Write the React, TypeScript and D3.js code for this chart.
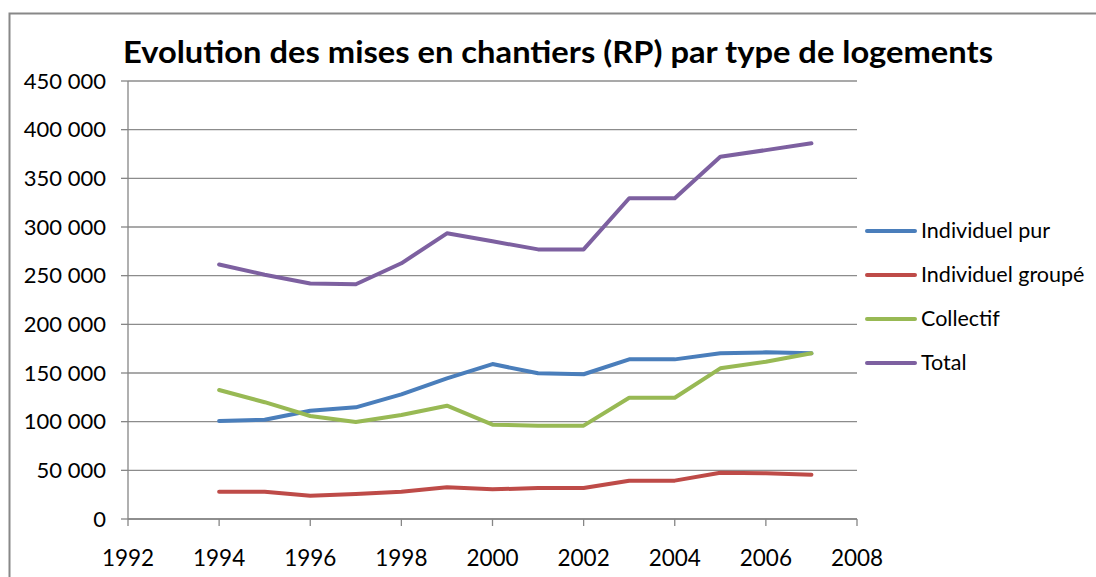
import React from 'react'
import * as d3 from 'd3'

const years = [1994, 1995, 1996, 1997, 1998, 1999, 2000, 2001, 2002, 2003, 2004, 2005, 2006, 2007]
const individuelPur = [100700, 102000, 111300, 114700, 128100, 144500, 159200, 149700, 148700, 164000, 164000, 170200, 171200, 170200]
const individuelGroupe = [28100, 28100, 24000, 25700, 28100, 32600, 30500, 31800, 31800, 39400, 39400, 47600, 47000, 45500]
const collectif = [132500, 120000, 105800, 99700, 106900, 116400, 96900, 95900, 95900, 124600, 124600, 154800, 161600, 170200]
const total = [261500, 251000, 242000, 241200, 262700, 293500, 285300, 277000, 277000, 329500, 329500, 372200, 379000, 386000]

const seriesNames = ['Individuel pur', 'Individuel groupé', 'Collectif', 'Total']
const seriesValues = [individuelPur, individuelGroupe, collectif, total]
const seriesColors = ['#4a7ebb', '#be4b48', '#98b954', '#7d60a0']

const xTicks = [1992, 1994, 1996, 1998, 2000, 2002, 2004, 2006, 2008]
const yTicks = [0, 50000, 100000, 150000, 200000, 250000, 300000, 350000, 400000, 450000]

const title = 'Evolution des mises en chantiers (RP) par type de logements'

export default function App() {
  const width = 1096
  const height = 577
  const font = 'Lato, "Open Sans", sans-serif'

  const x = d3.scaleLinear().domain([1992, 2008]).range([128, 857])
  const y = d3.scaleLinear().domain([0, 450000]).range([519, 81])

  const line = d3
    .line<number>()
    .x((d, i) => x(years[i]))
    .y(d => y(d))

  // thousands separated by a space, french style
  const fmt = (v: number) => d3.format(',')(v).replace(/,/g, ' ')

  return (
    <svg
      width={width}
      height={height}
      style={{position: 'absolute', left: 0, top: 0, background: '#fff'}}
    >
      <rect x={0} y={0} width={width} height={height} fill="#fff" />
      {/* chart frame */}
      <rect x={9.5} y={13.5} width={width + 20} height={height + 20} fill="none" stroke="#888" strokeWidth={2} />

      <text
        x={123}
        y={63}
        fontFamily={font}
        fontWeight="bold"
        fontSize={31}
        textLength={870}
        lengthAdjust="spacingAndGlyphs"
        fill="#000"
      >
        {title}
      </text>

      {/* gridlines */}
      {yTicks.map(t => (
        <line key={'g' + t} x1={x(1992)} x2={x(2008)} y1={y(t)} y2={y(t)} stroke="#8c8c8c" strokeWidth={1.3} />
      ))}

      {/* y axis */}
      <line x1={x(1992)} x2={x(1992)} y1={y(450000)} y2={y(0)} stroke="#868686" strokeWidth={1.3} />
      {yTicks.map(t => (
        <g key={'y' + t}>
          <line x1={x(1992) - 7} x2={x(1992)} y1={y(t)} y2={y(t)} stroke="#868686" strokeWidth={1.3} />
          <text x={106} y={y(t) + 7.5} textAnchor="end" fontFamily={font} fontSize={22} fill="#000">
            {fmt(t)}
          </text>
        </g>
      ))}

      {/* x axis */}
      <line x1={x(1992)} x2={x(2008)} y1={y(0)} y2={y(0)} stroke="#868686" strokeWidth={1.3} />
      {xTicks.map(t => (
        <g key={'x' + t}>
          <line x1={x(t)} x2={x(t)} y1={y(0)} y2={y(0) + 7} stroke="#868686" strokeWidth={1.3} />
          <text x={x(t)} y={566} textAnchor="middle" fontFamily={font} fontSize={22.5} fill="#000">
            {t}
          </text>
        </g>
      ))}

      {/* series */}
      {seriesValues.map((vals, i) => (
        <path
          key={seriesNames[i]}
          d={line(vals) || ''}
          fill="none"
          stroke={seriesColors[i]}
          strokeWidth={4}
          strokeLinejoin="round"
          strokeLinecap="round"
        />
      ))}

      {/* legend */}
      {seriesNames.map((name, i) => {
        const ly = 231 + i * 44
        return (
          <g key={'l' + name}>
            <line x1={867} x2={915} y1={ly} y2={ly} stroke={seriesColors[i]} strokeWidth={4} strokeLinecap="round" />
            <text x={921} y={ly + 7} fontFamily={font} fontSize={21.5} fill="#000">
              {name}
            </text>
          </g>
        )
      })}
    </svg>
  )
}
